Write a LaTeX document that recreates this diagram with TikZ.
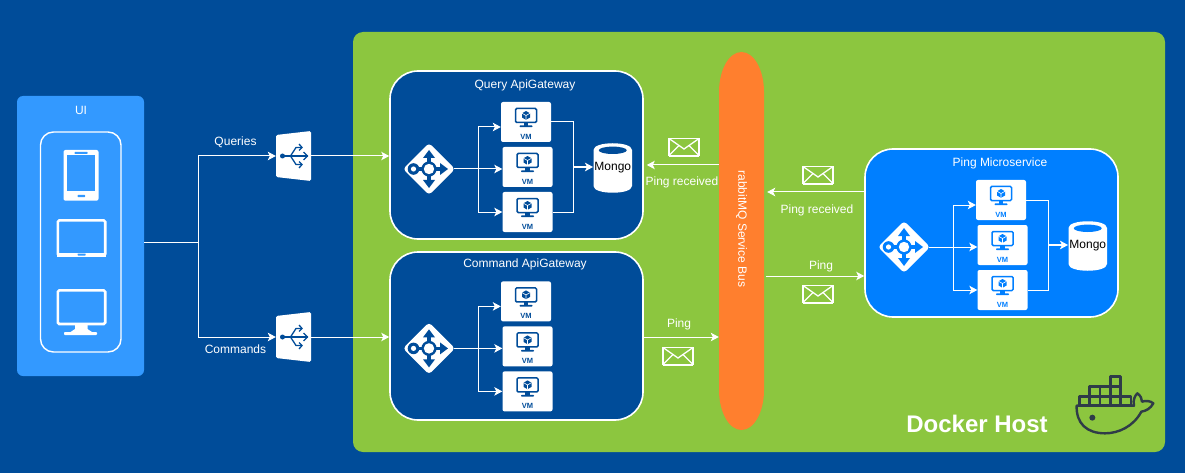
\documentclass[tikz,border=0pt]{standalone}
\usepackage{fontspec}
\setmainfont{Liberation Sans}
\usetikzlibrary{arrows.meta}
\definecolor{bgblue}{HTML}{004C99}
\definecolor{uiblue}{HTML}{3399FF}
\definecolor{pingblue}{HTML}{007FFF}
\definecolor{hostgreen}{HTML}{8CC63F}
\definecolor{busorange}{HTML}{FF7F2E}
\definecolor{whale}{HTML}{2F3C48}
\tikzset{
  x=1pt,y=-1pt,
  lbl/.style={text=white,font=\fontsize{12}{14}\selectfont,inner sep=0},
  conn/.style={draw=white,line width=1pt,-{Stealth[length=8pt,width=8.5pt,inset=2pt]}},
  plain/.style={draw=white,line width=1pt},
  groupbox/.style={rounded corners=28pt,minimum width=253pt,minimum height=168pt,draw=white,line width=1.6pt,inner sep=0},
  vmbox/.style={fill=white,rounded corners=2pt,minimum width=50pt,minimum height=40pt,inner sep=0},
  mongonode/.style={minimum width=39pt,minimum height=50pt,inner sep=0,text=black,font=\fontsize{12}{14}\selectfont},
  lbnode/.style={minimum width=35pt,minimum height=46pt,inner sep=0},
  gwnode/.style={minimum width=50pt,minimum height=50pt,inner sep=0},
  devstroke/.style={draw=white,line width=2.6pt,rounded corners=1.5pt},
  vmglyph/.pic={
    \draw[grpcol,line width=1.5pt,rounded corners=1.2pt,fill=white] (-10.5,-13.5) rectangle (10.5,0.5);
    \fill[grpcol] (-2.2,0.5) rectangle (2.2,4);
    \fill[grpcol,rounded corners=0.8pt] (-6.5,3.4) rectangle (6.5,5.2);
    \fill[grpcol] (0,-11) -- (4,-8.7) -- (4,-4.5) -- (0,-2.2) -- (-4,-4.5) -- (-4,-8.7) -- cycle;
    \draw[white,line width=0.6pt] (-4,-8.7) -- (0,-6.5) -- (4,-8.7) (0,-6.5) -- (0,-2.2);
    \node[text=grpcol,inner sep=0,font=\fontsize{7.5}{9}\selectfont\bfseries] at (0,15) {VM};
  },
  gwglyph/.pic={
    \fill[white,rounded corners=3.5pt] (0,-26) -- (26,0) -- (0,26) -- (-26,0) -- cycle;
    \begin{scope}[line width=3.2pt,grpcol]
      \draw (0,-6) -- (0,-13);
      \draw (0,6) -- (0,13);
      \draw (6,0) -- (13,0);
      \draw (-6,0) -- (-12,0);
      \fill (0,-19) -- (6,-11) -- (-6,-11) -- cycle;
      \fill (0,19) -- (6,11) -- (-6,11) -- cycle;
      \fill (19,0) -- (11,6) -- (11,-6) -- cycle;
      \fill (-15.5,0) circle (5.8);
      \fill[white] (-15.5,0) circle (2.6);
      \fill (0,0) circle (7.6);
      \fill[white] (0,0) circle (5.2);
    \end{scope}
  },
  lbglyph/.pic={
    \fill[white,rounded corners=1.5pt] (-17.5,-21) -- (17.5,-25) -- (17.5,25) -- (-17.5,21) -- cycle;
    \begin{scope}[bgblue,line width=1.3pt]
      \fill (-11,0) circle (2.5);
      \draw (-11,0) -- (14,0);
      \draw (10,-4) -- (14,0) -- (10,4);
      \draw (-3,0) -- (2.5,-8.5) -- (8.5,-8.5);
      \draw (5.5,-12) -- (8.5,-8.5) -- (5.5,-5.5);
      \draw (-3,0) -- (2.5,8.5) -- (8.5,8.5);
      \draw (5.5,12) -- (8.5,8.5) -- (5.5,5.5);
    \end{scope}
  },
  envglyph/.pic={
    \draw[white,line width=1.8pt] (-15,-8.5) rectangle (15,8.5);
    \draw[white,line width=1.3pt] (-15,-8.5) -- (0,2) -- (15,-8.5);
    \draw[white,line width=1.3pt] (-15,8.5) -- (-5,-1.5) (15,8.5) -- (5,-1.5);
    \draw[white,line width=1.4pt] (-15,9) -- (15,9);
  }
}
% #1 prefix, #2 dx, #3 dy, #4 colour, #5 title, #6 box extra dy
\newcommand{\servicebox}[6]{%
  \colorlet{grpcol}{#4}%
  \begin{scope}[shift={(#2,#3)}]
    \node[groupbox,fill=grpcol] (#1box) at (516.5,155+#6) {};
    \node[lbl] (#1title) at (525,85) {#5};
    \node[gwnode] (#1gw) at (429,169) {};
    \pic at (#1gw) {gwglyph};
    \node[vmbox] (#1a) at (526,122) {};
    \node[vmbox] (#1b) at (527.5,167) {};
    \node[vmbox] (#1c) at (527.5,212) {};
    \pic at (#1a) {vmglyph};
    \pic at (#1b) {vmglyph};
    \pic at (#1c) {vmglyph};
    \coordinate (#1br) at (478,169);
    \draw[conn] (#1br) |- ([yshift=-5pt]#1a.west);
    \draw[conn] (#1gw.east) -- (#1b.west |- #1gw.east);
    \draw[conn] (#1br) |- (#1c.west);
  \end{scope}
}
% #1 prefix, #2 dx, #3 dy
\newcommand{\mongostore}[3]{%
  \begin{scope}[shift={(#2,#3)}]
    \fill[white] (593.5,150) .. controls (593.5,141) and (632,141) .. (632,150)
      -- (632,186) .. controls (632,195) and (593.5,195) .. (593.5,186) -- cycle;
    \fill[grpcol] (612.75,150.3) ellipse (14 and 3.7);
    \node[mongonode] (#1m) at (612.75,168) {Mongo};
    \coordinate (#1j) at (573.5,167);
    \draw[plain] (#1a.east) -| (#1j);
    \draw[plain] (#1c.east) -| (#1j);
    \draw[conn,line width=1.5pt] (#1j) -- (#1m.west |- #1j);
  \end{scope}
}
\begin{document}
\begin{tikzpicture}
\useasboundingbox (0,0) rectangle (1185,473);
\fill[bgblue] (0,0) rectangle (1185,473);
% Docker host
\node[fill=hostgreen,rounded corners=10pt,minimum width=812pt,minimum height=420pt,inner sep=0] (host) at (759,242) {};
\node[text=white,inner sep=0,font=\fontsize{24}{28}\selectfont\bfseries] (hostlabel) at (977,424) {Docker Host};
% UI
\node[fill=uiblue,rounded corners=6pt,minimum width=127pt,minimum height=280pt,inner sep=0] (ui) at (80.5,236) {};
\node[lbl] (uilabel) at (81,110) {UI};
\node[draw=white,line width=1.4pt,rounded corners=13pt,minimum width=80.5pt,minimum height=220pt,inner sep=0] (devices) at (80.75,242) {};
% phone
\fill[white,rounded corners=2pt] (63.5,150) rectangle (98.5,200.7);
\fill[uiblue] (67,155.5) rectangle (95,191.5);
\fill[uiblue,rounded corners=.5pt] (74.5,152) rectangle (87.5,153.8);
\fill[uiblue,rounded corners=.5pt] (77.5,195) rectangle (85,197);
% tablet
\draw[devstroke] (57.8,220.3) rectangle (105.2,255.4);
\fill[white] (57,252.5) rectangle (106,256.5);
\fill[uiblue,rounded corners=.5pt] (77.5,253.5) rectangle (85.5,255.5);
% monitor
\draw[devstroke] (57.8,290.3) rectangle (105.2,324);
\fill[white] (75,324) -- (87.5,324) -- (87.5,329) -- (92,332) -- (70.5,332) -- (75,329) -- cycle;
\fill[white,rounded corners=.8pt] (64,332) rectangle (97,335);
% load balancers
\node[lbnode] (lbq) at (293.5,156) {};
\node[lbnode] (lbc) at (293.5,337) {};
\pic at (lbq) {lbglyph};
\pic at (lbc) {lbglyph};
% UI connectors
\coordinate (uisplit) at (198,242.3);
\draw[plain] (ui.east |- uisplit) -- (uisplit);
\draw[conn] (uisplit) |- (lbq.west);
\draw[conn] (uisplit) |- (lbc.west);
\node[lbl] (qlabel) at (235.5,142) {Queries};
\node[lbl] (clabel) at (235.5,349) {Commands};
% services
\servicebox{q}{0}{0}{bgblue}{Query ApiGateway}{0}
\mongostore{q}{0}{0}
\servicebox{c}{0}{179.4}{bgblue}{Command ApiGateway}{1.6}
\servicebox{p}{475}{78}{pingblue}{Ping Microservice}{0}
\mongostore{p}{475}{78}
\draw[conn] (lbq.east) -- (qbox.west |- lbq.east);
\draw[conn] (lbc.east) -- (cbox.west |- lbc.east);
% bus
\fill[busorange] (719,92) .. controls (719,70) and (729,52) .. (741.5,52)
  .. controls (754,52) and (764,70) .. (764,92) -- (764,390)
  .. controls (764,412) and (754,430) .. (741.5,430)
  .. controls (729,430) and (719,412) .. (719,390) -- cycle;
\node[minimum width=45pt,minimum height=378pt,inner sep=0] (bus) at (741.5,241) {};
\node[lbl,rotate=-90] (buslabel) at (741.5,229) {rabbitMQ Service Bus};
% messages
\coordinate (a1) at (bus.west |- 0,165);
\coordinate (a2) at (qbox.east |- 0,165);
\draw[conn] (a1) -- ([xshift=3pt]a2);
\coordinate (b1) at (pbox.west |- 0,192);
\coordinate (b2) at (bus.east |- 0,192);
\draw[conn] (b1) -- ([xshift=3pt]b2);
\coordinate (c1) at (bus.east |- 0,276);
\coordinate (c2) at (pbox.west |- 0,276);
\draw[conn] ([xshift=2pt]c1) -- (c2);
\coordinate (d1) at (cbox.east |- 0,337);
\coordinate (d2) at (bus.west |- 0,337);
\draw[conn] (d1) -- (d2);
\pic at (684,147) {envglyph};
\pic at (818,175) {envglyph};
\pic at (818,294) {envglyph};
\pic at (678,356) {envglyph};
\node[lbl] (l1) at (682,182) {Ping received};
\node[lbl] (l2) at (817,210) {Ping received};
\node[lbl] (l3) at (821,266) {Ping};
\node[lbl] (l4) at (679,324) {Ping};
% whale
\begin{scope}[shift={(1060,365)},x=0.3333pt,y=-0.3333pt,whale,line width=2.4pt,line join=round]
  \draw (58,122) rectangle (213,95);
  \draw (89,95) -- (89,122) (120,95) -- (120,122) (151,95) -- (151,122) (182,95) -- (182,122);
  \draw (89,95) rectangle (182,65);
  \draw (120,65) -- (120,95) (151,65) -- (151,95);
  \draw (151,65) rectangle (182,35);
  \draw (50,122) -- (222,122) .. controls (218,105) and (225,92) .. (232,85)
     .. controls (242,92) and (246,102) .. (246,110) .. controls (258,106) and (272,108) .. (280,115)
     .. controls (272,130) and (258,138) .. (244,140) .. controls (220,185) and (175,205) .. (135,205)
     .. controls (80,205) and (48,175) .. (50,122) -- cycle;
  \fill (97,158) circle (9);
\end{scope}
\end{tikzpicture}
\end{document}
